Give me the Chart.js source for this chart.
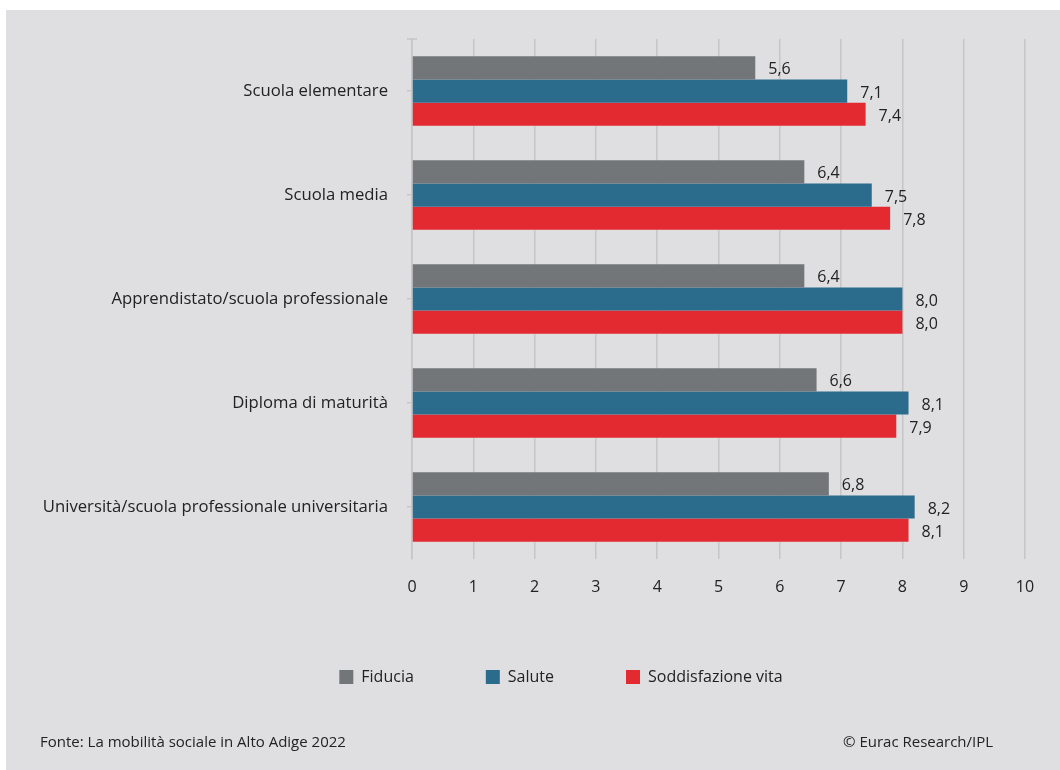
<!DOCTYPE html>
<html lang="it">
<head>
<meta charset="utf-8">
<title>Mobilità sociale in Alto Adige</title>
<script src="https://cdn.jsdelivr.net/npm/chart.js@4.4.1/dist/chart.umd.min.js"></script>
<style>
  html, body { margin: 0; padding: 0; background: #ffffff; }
  .panel {
    position: absolute; left: 6px; top: 10px;
    width: 1054px; height: 760px;
    background: #dfdfe1;
  }
  canvas { display: block; }
  .note {
    position: absolute; top: 721px;
    font-family: "Open Sans", sans-serif; font-size: 15px; color: #222;
  }
</style>
</head>
<body>
<div class="panel">
  <canvas id="chart" width="1054" height="760"></canvas>
  <div class="note" style="left:34px">Fonte: La mobilità sociale in Alto Adige 2022</div>
  <div class="note" style="left:837px">© Eurac Research/IPL</div>
</div>
<script>
// Livelli di istruzione (categorie) e punteggi medi per serie
const CATEGORIES = [
  'Scuola elementare',
  'Scuola media',
  'Apprendistato/scuola professionale',
  'Diploma di maturità',
  'Università/scuola professionale universitaria',
];
const FIDUCIA = [5.6, 6.4, 6.4, 6.6, 6.8];
const SALUTE = [7.1, 7.5, 8.0, 8.1, 8.2];
const SODDISFAZIONE = [7.4, 7.8, 8.0, 7.9, 8.1];
const X_TICKS = [0, 1, 2, 3, 4, 5, 6, 7, 8, 9, 10];

const FONT = "'Open Sans', sans-serif";
const GRID = '#c6c6c8';
const TEXT = '#222222';

// Etichette dei valori a destra di ogni barra, con la virgola decimale
const valueLabels = {
  id: 'valueLabels',
  afterLayout(chart) {
    // le etichette lunghe dell'asse y escono dal riquadro: allarga l'area di clip
    const y = chart.scales.y;
    y.width += y.left;
    y.left = 0;
  },
  afterDatasetsDraw(chart) {
    const { ctx } = chart;
    ctx.save();
    ctx.font = `16px ${FONT}`;
    ctx.fillStyle = TEXT;
    ctx.textAlign = 'left';
    ctx.textBaseline = 'middle';
    chart.data.datasets.forEach((ds, i) => {
      chart.getDatasetMeta(i).data.forEach((bar, j) => {
        const txt = ds.data[j].toFixed(1).replace('.', ',');
        ctx.fillText(txt, bar.x + 13, bar.y + 2);
      });
    });
    // piccolo segno all'estremità superiore dell'asse verticale
    const { left, top } = chart.chartArea;
    ctx.strokeStyle = GRID;
    ctx.lineWidth = 1.5;
    ctx.beginPath();
    ctx.moveTo(left - 5, top);
    ctx.lineTo(left + 5, top);
    ctx.stroke();
    ctx.restore();
  },
};

new Chart(document.getElementById('chart'), {
  type: 'bar',
  data: {
    labels: CATEGORIES,
    datasets: [
      { label: 'Fiducia', data: FIDUCIA, backgroundColor: '#737678' },
      { label: 'Salute', data: SALUTE, backgroundColor: '#2b6c8c' },
      { label: 'Soddisfazione vita', data: SODDISFAZIONE, backgroundColor: '#e32a30' },
    ],
  },
  options: {
    indexAxis: 'y',
    responsive: false,
    animation: false,
    datasets: {
      bar: { barPercentage: 1, categoryPercentage: 0.67, borderWidth: 0 },
    },
    layout: { padding: { top: 28, right: 35, bottom: 75, left: 91 } },
    scales: {
      x: {
        min: 0,
        max: 10,
        afterBuildTicks: (s) => { s.ticks = X_TICKS.map(v => ({ value: v })); },
        afterFit: (s) => { s.height = 38; },
        grid: { color: GRID, lineWidth: 1.5, drawTicks: false },
        border: { display: false },
        ticks: {
          color: TEXT,
          padding: 19,
          font: { family: FONT, size: 16 },
        },
      },
      y: {
        afterFit: (s) => { s.width = 315; },
        grid: { offset: false, drawOnChartArea: false, color: GRID, lineWidth: 1.5, tickLength: 5 },
        border: { display: true, color: GRID, width: 1.5 },
        ticks: {
          color: TEXT,
          padding: 19,
          font: { family: FONT, size: 16.7 },
        },
      },
    },
    plugins: {
      legend: {
        position: 'bottom',
        labels: {
          color: TEXT,
          boxWidth: 14,
          boxHeight: 14,
          padding: 72,
          font: { family: FONT, size: 16 },
        },
      },
      tooltip: { enabled: false },
    },
  },
  plugins: [valueLabels],
});
</script>
</body>
</html>
